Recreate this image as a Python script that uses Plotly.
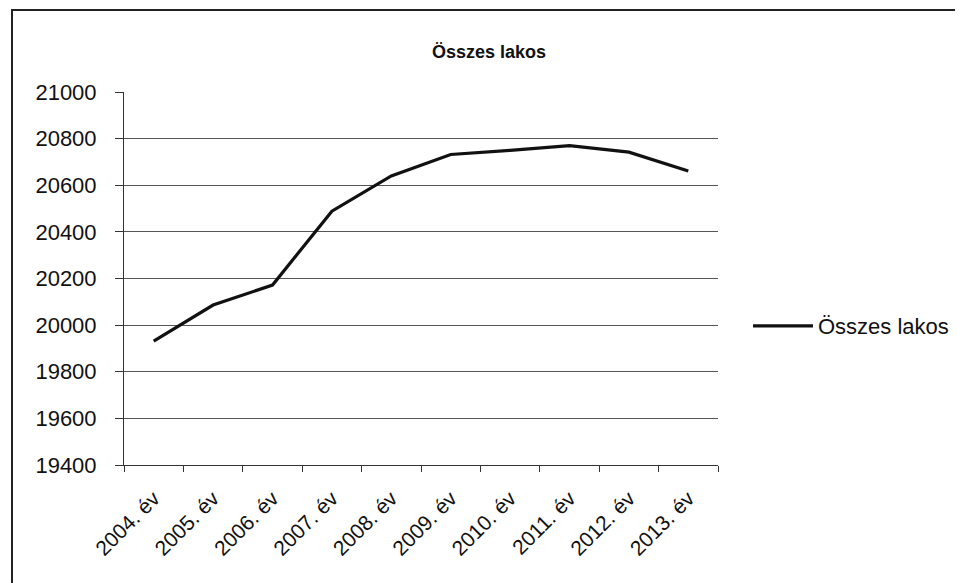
import plotly.graph_objects as go

categories = ["2004. év", "2005. év", "2006. év", "2007. év", "2008. év",
              "2009. év", "2010. év", "2011. év", "2012. év", "2013. év"]
osszes_lakos = [19931, 20086, 20172, 20489, 20640, 20732, 20750, 20770, 20742, 20661]
series_name = "Összes lakos"
chart_title = "Összes lakos"
y_ticks = [19400, 19600, 19800, 20000, 20200, 20400, 20600, 20800, 21000]
y_ticktext = [str(v) for v in y_ticks]

FONT = "Liberation Sans, Arial, sans-serif"

fig = go.Figure()
fig.add_trace(go.Scatter(
    x=categories, y=osszes_lakos, mode="lines", name=series_name,
    line=dict(color="#111111", width=3.2),
))

OFF = 8  # page body margin
W, H = 963, 583
# target plot area in screen pixels: x 124..718, y 92..465
L = 124 - OFF
T = 92 - OFF
R = W - 718 + OFF
B = H - 465 + OFF
pw, ph = W - L - R, H - T - B

def px_x(x):
    return (x - OFF - L) / pw

def px_y(y):
    return (H - B - (y - OFF)) / ph

fig.update_layout(
    width=W, height=H,
    margin=dict(l=L, r=R, t=T, b=B),
    paper_bgcolor="white", plot_bgcolor="white",
    font=dict(family=FONT, size=22, color="#111111"),
    showlegend=True,
    legend=dict(x=px_x(748), y=px_y(326), xanchor="left", yanchor="middle",
                font=dict(size=22, family=FONT), bgcolor="rgba(0,0,0,0)",
                itemwidth=60),
    xaxis=dict(
        type="category", tickangle=-45, tickson="boundaries",
        ticks="outside", ticklen=6, tickcolor="#333333",
        showline=True, linecolor="#333333", linewidth=1,
        showgrid=False, tickfont=dict(size=21, family=FONT),
        ticklabelstandoff=12,
        range=[-0.5, 9.5],
    ),
    yaxis=dict(
        range=[19400, 21000], tickvals=y_ticks, ticktext=y_ticktext,
        ticks="outside", ticklen=8, tickcolor="#333333",
        showline=True, linecolor="#333333", linewidth=1,
        showgrid=True, gridcolor="#555555", gridwidth=1,
        tickfont=dict(size=22, family=FONT), zeroline=False,
        ticklabelstandoff=14,
    ),
    annotations=[dict(
        text="<b>" + chart_title + "</b>", xref="paper", yref="paper",
        x=px_x(489), y=px_y(52), xanchor="center", yanchor="middle",
        showarrow=False, font=dict(size=18, family=FONT, color="#111111"),
    )],
    shapes=[dict(
        type="rect", xref="paper", yref="paper",
        x0=px_x(12), x1=px_x(961), y0=px_y(600), y1=px_y(10),
        line=dict(color="#222222", width=2), fillcolor="rgba(0,0,0,0)",
        layer="below",
    )],
)

fig.write_html("out.html")
